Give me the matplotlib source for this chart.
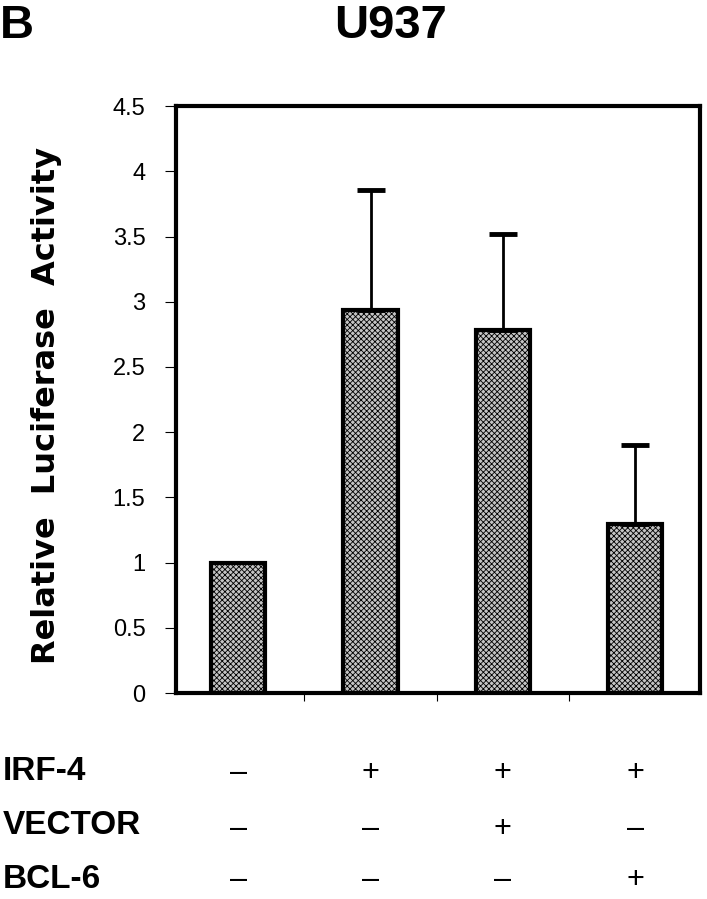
import matplotlib
matplotlib.use("Agg")
import matplotlib.pyplot as plt
import matplotlib.transforms as mtransforms

categories = ["ctrl", "IRF-4", "IRF-4+VECTOR", "IRF-4+BCL-6"]
values = [1.0, 2.94, 2.78, 1.30]
errors = [0.0, 0.92, 0.74, 0.60]
yticks = [0, 0.5, 1, 1.5, 2, 2.5, 3, 3.5, 4, 4.5]
ytick_labels = ["0", "0.5", "1", "1.5", "2", "2.5", "3", "3.5", "4", "4.5"]
row_labels = ["IRF-4", "VECTOR", "BCL-6"]
row_signs = [["–", "+", "+", "+"],
             ["–", "–", "+", "–"],
             ["–", "–", "–", "+"]]

plt.rcParams['hatch.color'] = '#4a4a4a'
plt.rcParams['hatch.linewidth'] = 0.6

fig = plt.figure(figsize=(7.07, 8.99), dpi=100)
ax = fig.add_axes([0.249, 0.229, 0.741, 0.653])

x = list(range(len(categories)))
ax.bar(x, values, width=0.41, color='#c4c4c4', edgecolor='black',
       linewidth=3, hatch='xxxxxx', zorder=2)
for xi, v, e in zip(x, values, errors):
    if e > 0:
        ax.errorbar([xi], [v], yerr=[[0], [e]], fmt='none', ecolor='black',
                    elinewidth=2, capsize=10, capthick=3.5, zorder=3)

ax.set_xlim(-0.47, 3.49)
ax.set_ylim(0, 4.5)
ax.set_yticks(yticks)
ax.set_yticklabels(ytick_labels, family='Liberation Sans', fontsize=17)
ax.set_xticks([0.5, 1.5, 2.5])
ax.set_xticklabels([])
ax.tick_params(axis='y', direction='out', length=8, width=0.8, pad=14)
ax.tick_params(axis='x', direction='out', length=6, width=0.8)
for s in ax.spines.values():
    s.set_linewidth(3)

ax.set_ylabel("Relative  Luciferase  Activity", family='DejaVu Sans',
              fontweight='bold', fontsize=23)
ax.yaxis.label.set_va('center')
ax.yaxis.set_label_coords(-0.248, 0.49)

fig.text(0.0, 0.996, "B", family='Liberation Sans', fontweight='bold',
         fontsize=34, ha='left', va='top')
fig.text(0.553, 0.996, "U937", family='Liberation Sans', fontweight='bold',
         fontsize=34, ha='center', va='top')

trans = mtransforms.blended_transform_factory(ax.transData, fig.transFigure)
label_y = [1 - 772 / 899, 1 - 826 / 899, 1 - 880 / 899]
sign_y = [1 - 773 / 899, 1 - 829 / 899, 1 - 880 / 899]
for lbl, signs, ly, sy in zip(row_labels, row_signs, label_y, sign_y):
    fig.text(0.004, ly, lbl, family='Liberation Sans', fontweight='bold',
             fontsize=24, ha='left', va='center')
    for xi, sg in zip(x, signs):
        ax.text(xi, sy, sg, transform=trans, family='Liberation Sans',
                fontsize=22, ha='center', va='center', clip_on=False)

fig.savefig("out.png", dpi=100)
